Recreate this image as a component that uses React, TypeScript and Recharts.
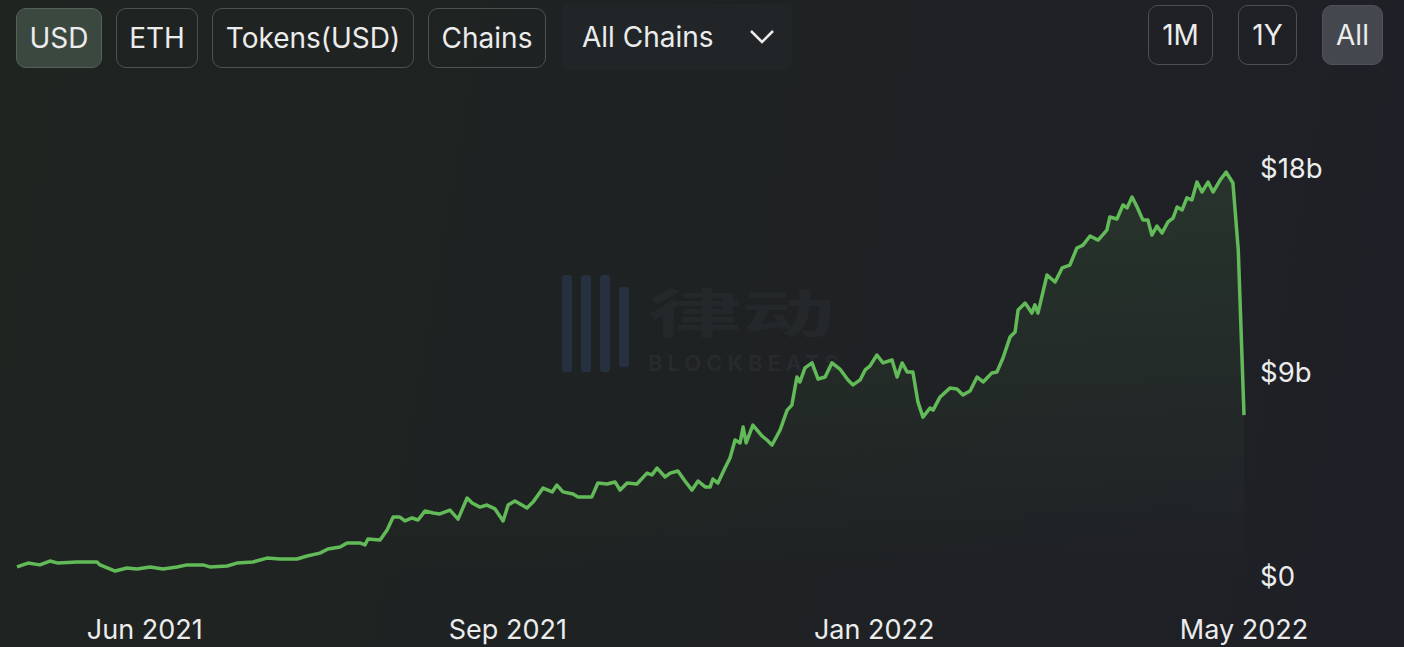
import { AreaChart, Area, XAxis, YAxis } from 'recharts';

// day offsets from the first point
const days = [
  0, 3.3, 6.8, 9.8, 12.2, 17.8, 23.8, 24.7, 29.2, 32.7,
  35.7, 39.6, 43.4, 47.6, 50.6, 55.3, 57.4, 62.5, 65.4, 70.2,
  74.4, 78.2, 83.3, 86.3, 90.1, 92.5, 96.1, 98.2, 102.0, 103.5,
  104.4, 108.0, 110.1, 111.9, 113.9, 115.4, 117.5, 119.3, 121.4, 123.8,
  125.8, 128.8, 131.2, 133.9, 135.4, 137.7, 139.8, 142.2, 144.6, 146.1,
  148.1, 150.2, 151.7, 153.5, 156.5, 159.2, 160.6, 162.4, 165.4, 166.9,
  171.0, 172.8, 175.5, 177.9, 179.4, 181.5, 184.4, 187.4, 188.9, 190.4,
  192.8, 194.3, 196.6, 198.7, 200.8, 202.6, 204.7, 206.2, 207.0, 208.5,
  210.6, 212.1, 213.6, 215.1, 216.0, 216.9, 218.9, 221.6, 223.1, 224.6,
  227.0, 229.1, 230.5, 232.0, 232.9, 234.4, 236.5, 238.3, 240.4, 242.4,
  244.8, 247.2, 248.7, 250.8, 252.3, 253.7, 255.8, 257.6, 260.3, 261.8,
  263.3, 264.8, 266.5, 268.0, 269.5, 271.6, 272.5, 274.6, 277.5, 279.6,
  281.4, 283.5, 285.6, 287.4, 290.0, 291.5, 293.3, 295.4, 296.9, 297.8,
  299.9, 301.9, 302.8, 303.7, 306.4, 308.8, 310.9, 313.2, 315.3, 317.1,
  319.2, 321.6, 324.2, 325.1, 327.2, 329.0, 330.2, 331.7, 333.2, 334.9,
  336.4, 337.6, 339.1, 340.6, 342.4, 343.9, 345.1, 346.6, 348.0, 349.5,
  351.0, 352.5, 354.3, 355.8, 357.9, 359.7, 361.7, 363.3, 365.0,
];

// TVL in billions USD
const tvl = [
  0.40, 0.57, 0.49, 0.66, 0.57, 0.62, 0.62, 0.49, 0.22, 0.35,
  0.31, 0.40, 0.31, 0.40, 0.49, 0.49, 0.40, 0.44, 0.57, 0.62,
  0.79, 0.75, 0.75, 0.88, 1.01, 1.19, 1.28, 1.46, 1.46, 1.37,
  1.63, 1.59, 2.03, 2.60, 2.60, 2.43, 2.56, 2.47, 2.87, 2.78,
  2.74, 2.91, 2.51, 3.44, 3.22, 3.04, 3.13, 2.96, 2.43, 3.13,
  3.31, 3.13, 3.00, 3.26, 3.88, 3.71, 4.01, 3.71, 3.62, 3.49,
  3.49, 4.10, 4.06, 4.15, 3.79, 4.10, 4.06, 4.54, 4.46, 4.76,
  4.37, 4.54, 4.63, 4.19, 3.79, 4.19, 3.93, 3.93, 4.28, 4.10,
  4.76, 5.21, 6.00, 5.87, 6.57, 5.87, 6.66, 6.18, 6.00, 5.78,
  6.44, 7.32, 7.54, 8.78, 8.56, 9.18, 9.40, 8.69, 8.78, 9.40,
  9.13, 8.65, 8.43, 8.65, 9.09, 9.26, 9.75, 9.40, 9.53, 8.78,
  9.40, 9.00, 9.00, 7.68, 7.01, 7.41, 7.32, 7.90, 8.29, 8.25,
  7.99, 8.16, 8.78, 8.56, 8.96, 9.00, 9.62, 10.54, 10.76, 11.74,
  12.04, 11.60, 11.96, 11.60, 13.28, 12.97, 13.59, 13.72, 14.47, 14.60,
  15.00, 14.82, 15.26, 15.84, 15.75, 16.37, 16.24, 16.72, 16.28, 15.71,
  15.71, 15.04, 15.44, 15.13, 15.62, 15.79, 16.28, 16.15, 16.68, 16.59,
  17.38, 16.94, 17.38, 16.94, 17.47, 17.82, 17.34, 14.38, 7.10,
];

const xTicks = [38, 146, 255, 365];
const xTickLabels = ['Jun 2021', 'Sep 2021', 'Jan 2022', 'May 2022'];
const yTicks = [0, 9, 18];

const leftButtons = ['USD', 'ETH', 'Tokens(USD)', 'Chains'];
const rangeButtons = ['1M', '1Y', 'All'];

const data = days.map((d, i) => ({ day: d, tvl: tvl[i] }));

const FONT = 'Inter, "Noto Sans", sans-serif';
const TEXT = '#ececec';

function XTick({ x, y, payload }: any) {
  const i = xTicks.indexOf(payload.value);
  return (
    <text x={x} y={y + 55} textAnchor="middle" fill={TEXT} fontSize={27} fontFamily={FONT}>
      {xTickLabels[i]}
    </text>
  );
}

function YTick({ x, y, payload }: any) {
  return (
    <text x={x + 8} y={y} dy="0.36em" textAnchor="start" fill={TEXT} fontSize={27.5} fontFamily={FONT}>
      {payload.value === 0 ? '$0' : `$${payload.value}b`}
    </text>
  );
}

const btnPos = [
  { left: 16, width: 86 },
  { left: 116, width: 82 },
  { left: 212, width: 202 },
  { left: 428, width: 118 },
];
const rangePos = [
  { left: 1148, width: 65 },
  { left: 1238, width: 59 },
  { left: 1322, width: 61 },
];

export default function App() {
  return (
    <div
      style={{
        position: 'absolute',
        left: 0,
        top: 0,
        width: 1404,
        height: 647,
        overflow: 'hidden',
        background: 'linear-gradient(100deg, #1f2421 0%, #1f2223 50%, #1f2027 100%)',
        fontFamily: FONT,
      }}
    >
      {leftButtons.map((b, i) => (
        <div
          key={b}
          style={{
            position: 'absolute',
            top: 8,
            height: 60,
            left: btnPos[i].left,
            width: btnPos[i].width,
            boxSizing: 'border-box',
            borderRadius: 10,
            border: i === 0 ? '1.5px solid #55625a' : '1.5px solid #4c5250',
            background: i === 0 ? '#3b4840' : 'transparent',
            color: TEXT,
            fontSize: 28,
            display: 'flex',
            alignItems: 'center',
            justifyContent: 'center',
          }}
        >
          {b}
        </div>
      ))}
      <div
        style={{
          position: 'absolute',
          top: 4,
          height: 66,
          left: 562,
          width: 230,
          borderRadius: 6,
          background: '#212527',
          color: TEXT,
          fontSize: 28,
          display: 'flex',
          alignItems: 'center',
        }}
      >
        <span style={{ marginLeft: 20 }}>All Chains</span>
        <svg width={26} height={16} style={{ position: 'absolute', left: 187, top: 25 }}>
          <polyline points="2,2 13,13 24,2" fill="none" stroke={TEXT} strokeWidth={2.5} />
        </svg>
      </div>
      {rangeButtons.map((b, i) => (
        <div
          key={b}
          style={{
            position: 'absolute',
            top: 5,
            height: 60,
            left: rangePos[i].left,
            width: rangePos[i].width,
            boxSizing: 'border-box',
            borderRadius: 10,
            border: i === 2 ? '1.5px solid #50525a' : '1.5px solid #4c4f53',
            background: i === 2 ? '#45474f' : 'transparent',
            color: TEXT,
            fontSize: 28,
            display: 'flex',
            alignItems: 'center',
            justifyContent: 'center',
          }}
        >
          {b}
        </div>
      ))}

      {/* faint watermark */}
      <div style={{ position: 'absolute', left: 562, top: 275, display: 'flex', gap: 9 }}>
        {[97, 97, 97, 80].map((h, i) => (
          <div key={i} style={{ width: 10, height: h, marginTop: i === 3 ? 12 : 0, background: '#273040', borderRadius: 3 }} />
        ))}
      </div>
      <div
        style={{
          position: 'absolute',
          left: 648,
          top: 285,
          fontSize: 52,
          lineHeight: '52px',
          fontWeight: 700,
          color: '#25282b',
          fontFamily: '"Noto Sans CJK SC", sans-serif',
          transform: 'scaleX(1.8)',
          transformOrigin: 'left',
        }}
      >
        律动
      </div>
      <div style={{ position: 'absolute', left: 648, top: 352, fontSize: 22, lineHeight: '22px', letterSpacing: 5, color: '#272a2e', fontWeight: 600 }}>
        BLOCKBEATS
      </div>

      <div style={{ position: 'absolute', left: 0, top: 0 }}>
        <AreaChart width={1404} height={647} data={data} margin={{ top: 168, right: 0, left: 17, bottom: 0 }}>
          <defs>
            <linearGradient id="tvlFill" x1="0" y1="0" x2="0" y2="1">
              <stop offset="0%" stopColor="#5aa650" stopOpacity={0.24} />
              <stop offset="100%" stopColor="#5aa650" stopOpacity={0} />
            </linearGradient>
          </defs>
          <XAxis
            dataKey="day"
            type="number"
            domain={[0, 365]}
            ticks={xTicks}
            tick={<XTick />}
            axisLine={false}
            tickLine={false}
            height={71}
            interval={0}
          />
          <YAxis
            orientation="right"
            domain={[0, 18]}
            ticks={yTicks}
            tick={<YTick />}
            axisLine={false}
            tickLine={false}
            width={160}
            interval={0}
          />
          <Area
            type="linear"
            dataKey="tvl"
            stroke="#62bb58"
            strokeWidth={3.5}
            strokeLinejoin="round"
            fill="url(#tvlFill)"
            isAnimationActive={false}
            dot={false}
            activeDot={false}
          />
        </AreaChart>
      </div>
    </div>
  );
}
